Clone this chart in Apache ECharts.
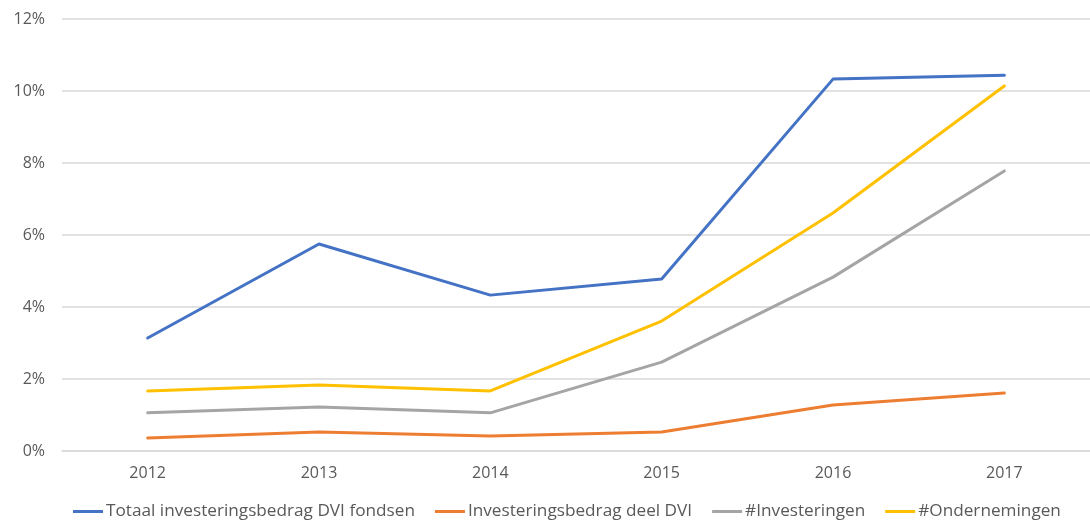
<!DOCTYPE html>
<html><head><meta charset="utf-8">
<script src="https://cdn.jsdelivr.net/npm/echarts@6/dist/echarts.min.js"></script>
<style>html,body{margin:0;padding:0;background:#fff}#c{width:1090px;height:522px}</style>
</head><body><div id="c"></div>
<script>
const categories = ['2012','2013','2014','2015','2016','2017'];
const totaal = [3.14, 5.75, 4.33, 4.78, 10.33, 10.44];
const deelDVI = [0.36, 0.53, 0.42, 0.53, 1.28, 1.61];
const investeringen = [1.06, 1.22, 1.06, 2.47, 4.83, 7.78];
const ondernemingen = [1.67, 1.83, 1.67, 3.61, 6.61, 10.14];
const seriesNames = ['Totaal investeringsbedrag DVI fondsen','Investeringsbedrag deel DVI','#Investeringen','#Ondernemingen'];
const colors = ['#4472C4','#ED7D31','#A5A5A5','#FFC000'];

const chart = echarts.init(document.getElementById('c'));
const font = 'Open Sans, Noto Sans, sans-serif';
const mk = (name, data, color) => ({
  name, type: 'line', data, symbol: 'none', smooth: false,
  lineStyle: { color, width: 3, cap: 'round', join: 'round' }, itemStyle: { color }
});
chart.setOption({
  animation: false,
  color: colors,
  grid: { left: 62, top: 19, width: 1032, bottom: 71 },
  legend: {
    bottom: -3, left: 68, itemWidth: 30, itemHeight: 3, itemGap: 20,
    icon: 'rect',
    textStyle: { color: '#595959', fontSize: 17.2, fontFamily: font, padding: [0, 0, 0, -2] },
    data: seriesNames
  },
  xAxis: {
    type: 'category', data: categories, boundaryGap: true,
    axisLine: { lineStyle: { color: '#D9D9D9', width: 1.5 } },
    axisTick: { show: false },
    axisLabel: { color: '#595959', fontSize: 16, fontFamily: font, margin: 14 }
  },
  yAxis: {
    type: 'value', min: 0, max: 12, interval: 2,
    axisLine: { show: false }, axisTick: { show: false },
    splitLine: { lineStyle: { color: '#D9D9D9', width: 1.5 } },
    axisLabel: { color: '#595959', fontSize: 16, fontFamily: font, margin: 17, formatter: v => v + '%' }
  },
  series: [
    mk(seriesNames[0], totaal, colors[0]),
    mk(seriesNames[1], deelDVI, colors[1]),
    mk(seriesNames[2], investeringen, colors[2]),
    mk(seriesNames[3], ondernemingen, colors[3])
  ]
});
</script></body></html>
